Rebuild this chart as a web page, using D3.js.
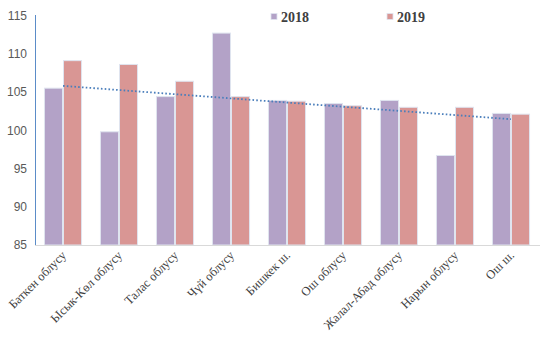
<!DOCTYPE html>
<html><head><meta charset="utf-8">
<script src="https://cdn.jsdelivr.net/npm/d3@7"></script>
<style>body{margin:0;background:#fff}</style>
</head><body>
<svg id="c" width="546" height="361"></svg>
<script>
const categories = ["Баткен облусу","Ысык-Көл облусу","Талас облусу","Чүй облусу","Бишкек ш.","Ош облусу","Жалал-Абад облусу","Нарын облусу","Ош ш."];
const series2018 = [105.5, 99.8, 104.4, 112.7, 103.9, 103.5, 103.9, 96.7, 102.2];
const series2019 = [109.1, 108.6, 106.4, 104.4, 103.8, 103.2, 103.0, 103.0, 102.1];
const seriesNames = ["2018","2019"];
const yTicks = [85,90,95,100,105,110,115];
const colors = ["#b3a2c7","#d99694"];

const svg = d3.select("#c");
const x0 = d3.scaleBand().domain(categories).range([35,539]).paddingInner(0.32).paddingOuter(0.16);
const x1 = d3.scaleBand().domain(seriesNames).range([0,x0.bandwidth()]);
const y = d3.scaleLinear().domain([85,115]).range([245,15.5]);

// bars
const data = [series2018, series2019];
seriesNames.forEach((s,si)=>{
  svg.append("g").selectAll("rect").data(categories).join("rect")
    .attr("x", c=>x0(c)+x1(s)+0.5)
    .attr("y", (c,i)=>y(data[si][i]))
    .attr("width", x1.bandwidth()-1)
    .attr("height", (c,i)=>y(85)-y(data[si][i]))
    .attr("fill", colors[si])
    .attr("stroke", "#dfe4ef").attr("stroke-width",1);
});

// axes
svg.append("line").attr("x1",35).attr("x2",540).attr("y1",245.5).attr("y2",245.5).attr("stroke","#d9d9d9");
svg.append("line").attr("x1",35.5).attr("x2",35.5).attr("y1",15).attr("y2",245).attr("stroke","#5b8cc8");

const yAxis = d3.axisLeft(y).tickValues(yTicks).tickSize(0).tickPadding(8);
const ga = svg.append("g").attr("transform","translate(35,0)").call(yAxis);
ga.select(".domain").remove();
ga.selectAll("text").attr("font-family","'Liberation Sans Narrow','Liberation Sans',Arial,sans-serif").attr("font-size","12px").attr("fill","#595959");

// x labels
svg.append("g").selectAll("text").data(categories).join("text")
  .attr("transform", c=>`translate(${x0(c)+x0.bandwidth()/2+4},256) rotate(-45)`)
  .attr("text-anchor","end")
  .attr("font-family","'Liberation Serif','Times New Roman',serif")
  .attr("font-size","12.5px").attr("fill","#404040")
  .text(c=>c);

// trendline (linear regression of 2018)
const n = series2018.length;
const xs = d3.range(n);
const mx = d3.mean(xs), my = d3.mean(series2018);
const slope = d3.sum(xs, i=>(i-mx)*(series2018[i]-my)) / d3.sum(xs, i=>(i-mx)*(i-mx));
const icpt = my - slope*mx;
svg.append("line")
  .attr("x1", x0(categories[0])+x0.bandwidth()/2).attr("y1", y(icpt))
  .attr("x2", x0(categories[n-1])+x0.bandwidth()/2).attr("y2", y(icpt+slope*(n-1)))
  .attr("stroke","#4a7ebb").attr("stroke-width",1.8).attr("stroke-dasharray","1.6,2.2");

// legend
const legX = [271, 387];
seriesNames.forEach((s,i)=>{
  svg.append("rect").attr("x",legX[i]).attr("y",13.5).attr("width",6).attr("height",6).attr("fill",colors[i]).attr("stroke","#dfe4ef").attr("stroke-width",0.8);
  svg.append("text").attr("x",legX[i]+10).attr("y",22).text(s)
    .attr("font-family","'Liberation Serif','Times New Roman',serif").attr("font-weight","bold").attr("font-size","14px").attr("fill","#404040");
});
</script>
</body></html>
